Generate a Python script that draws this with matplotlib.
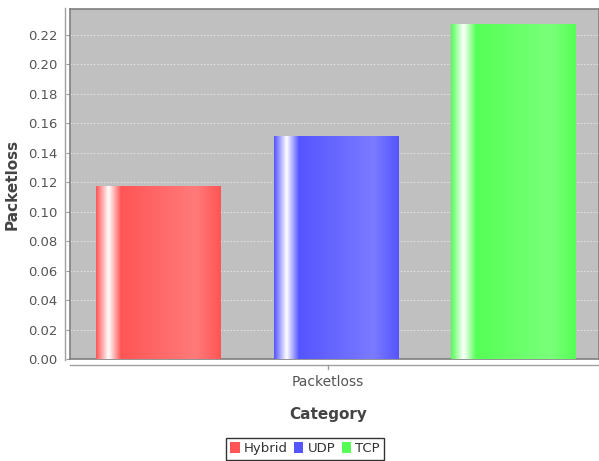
import numpy as np
import matplotlib
matplotlib.use("Agg")
import matplotlib.pyplot as plt
from matplotlib.lines import Line2D
from matplotlib.patches import Patch

series = ["Hybrid", "UDP", "TCP"]
values = [0.117, 0.151, 0.227]
colors = ["#FF5555", "#5555FF", "#55FF55"]
category = "Packetloss"
yticks = [0.00, 0.02, 0.04, 0.06, 0.08, 0.10, 0.12, 0.14, 0.16, 0.18, 0.20, 0.22]

W, H = 599, 461
fig = plt.figure(figsize=(W / 100, H / 100), dpi=100)
L, R, T, B = 70, 599, 9, 359
ax = fig.add_axes([L / W, 1 - B / H, (R - L) / W, (B - T) / H])
ax.set_facecolor("#C0C0C0")
for s in ax.spines.values():
    s.set_color("#808080")
    s.set_linewidth(1.2)

ax.set_yticks(yticks)
ax.set_yticklabels([f"{v:.2f}" for v in yticks], color="#555555", fontsize=9.5)
ax.tick_params(axis="y", length=3, color="#999999", pad=6)
ax.set_xticks([])
ax.grid(axis="y", color="#E8E8E8", linestyle=(0, (2, 2)), linewidth=0.6)
ax.set_axisbelow(True)


def gradient_cols(base, n=256):
    base = np.array(matplotlib.colors.to_rgb(base))
    white = np.ones(3)
    lighter = base + (white - base) * 0.22
    t = np.linspace(0, 1, n)
    out = np.zeros((n, 3))
    for i, x in enumerate(t):
        if x < 0.10:
            f = x / 0.10
            c = base * (1 - f) + white * f
        elif x < 0.20:
            f = (x - 0.10) / 0.10
            c = white * (1 - f) + base * f
        elif x < 0.80:
            f = (x - 0.20) / 0.60
            c = base * (1 - f) + lighter * f
        else:
            f = (x - 0.80) / 0.20
            c = lighter * (1 - f) + base * f
        out[i] = c
    return np.clip(out, 0, 1)


xs = np.arange(len(series))
width = 0.704
bars = ax.bar(xs, values, width=width, color=colors, zorder=2)
for b, col in zip(bars, colors):
    x0, y0 = b.get_x(), b.get_y()
    w, h = b.get_width(), b.get_height()
    img = gradient_cols(col)[np.newaxis, :, :]
    ax.imshow(img, extent=[x0, x0 + w, y0, y0 + h], aspect="auto", zorder=3,
              interpolation="bilinear")
    b.set_visible(False)
ax.set_xlim(-0.5, 2.48)
ax.set_ylim(0, 0.2373)

# offset axis lines
fig.add_artist(Line2D([65 / W, 65 / W], [1 - 360 / H, 1 - 8 / H], color="#A0A0A0", lw=1))
fig.add_artist(Line2D([70 / W, 1.0], [1 - 365 / H, 1 - 365 / H], color="#A0A0A0", lw=1))
fig.add_artist(Line2D([328 / W, 328 / W], [1 - 365 / H, 1 - 369 / H], color="#A0A0A0", lw=1))

ax.set_ylabel("Packetloss", fontsize=11, fontweight="bold", color="#444444", labelpad=6)
fig.text(328 / W, 1 - 382 / H, category, ha="center", va="center", fontsize=10, color="#555555")
fig.text(328 / W, 1 - 414 / H, "Category", ha="center", va="center", fontsize=11,
         fontweight="bold", color="#444444")

handles = [Patch(facecolor=c, edgecolor="none") for c in colors]
leg = fig.legend(handles, series, loc="lower center", bbox_to_anchor=(305 / W, -0.012),
                 ncol=3, frameon=True, fontsize=9.5, handlelength=0.7, handleheight=0.9,
                 handletextpad=0.3, columnspacing=0.5, borderpad=0.35, fancybox=False,
                 labelcolor="#333333")
leg.get_frame().set_edgecolor("black")
leg.get_frame().set_linewidth(1)

fig.savefig("out.png", dpi=100)
